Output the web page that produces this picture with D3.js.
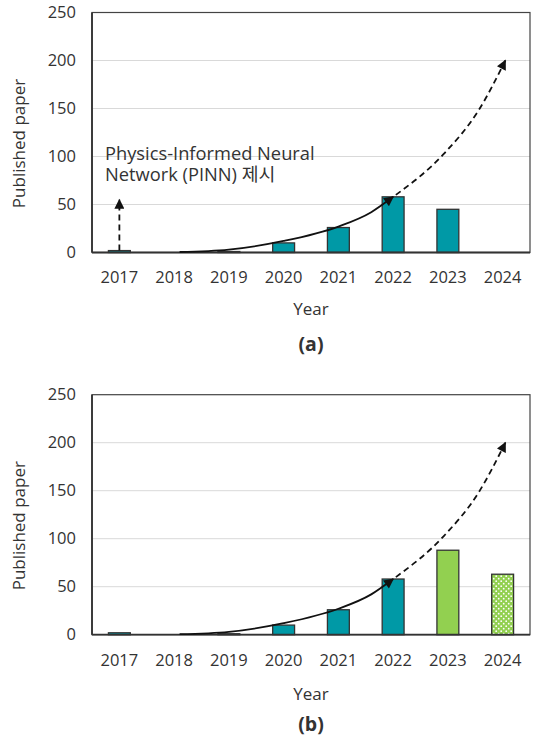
<!DOCTYPE html>
<html>
<head>
<meta charset="utf-8">
<script src="https://cdn.jsdelivr.net/npm/d3@7/dist/d3.min.js"></script>
<style>
  html, body { margin: 0; padding: 0; background: #fff; }
  svg { display: block; }
  text { font-family: "Open Sans", "Noto Sans CJK KR", sans-serif; fill: #333; }
</style>
</head>
<body>
<svg id="chart" width="536" height="738"></svg>
<script>
// ---- data ----
const years = ["2017", "2018", "2019", "2020", "2021", "2022", "2023", "2024"];
const papersA = [2, 0, 1, 10, 26, 58, 45, 0];
const papersB = [2, 0, 1, 10, 26, 58, 88, 63];
const barKindB = ["pub", "pub", "pub", "pub", "pub", "pub", "recent", "partial"];
const yTicks = [0, 50, 100, 150, 200, 250];
const trendSolid = [[2018.1, 0.5], [2019, 3], [2020, 12], [2021, 27], [2021.6, 42], [2022, 58]];
const trendDashed = [[2022.05, 60], [2022.93, 103], [2023.56, 148], [2024.05, 200]];
const pinnArrow = [[2017, 2], [2017, 55]];
const pinnLabel = ["Physics-Informed Neural", "Network (PINN) 제시"];
const panelLabels = ["(a)", "(b)"];

// ---- drawing ----
const svg = d3.select("#chart");
const defs = svg.append("defs");
defs.append("marker")
  .attr("id", "arrow").attr("markerUnits", "userSpaceOnUse")
  .attr("viewBox", "0 0 10 10").attr("refX", 9).attr("refY", 5)
  .attr("markerWidth", 11).attr("markerHeight", 10).attr("orient", "auto")
  .append("path").attr("d", "M0,0 L10,5 L0,10 z").attr("fill", "#111");
const pat = defs.append("pattern").attr("id", "dots").attr("patternUnits", "userSpaceOnUse")
  .attr("width", 5).attr("height", 5);
pat.append("rect").attr("width", 5).attr("height", 5).attr("fill", "#92D050");
pat.append("circle").attr("cx", 1.2).attr("cy", 1.2).attr("r", 0.9).attr("fill", "#fff");
pat.append("circle").attr("cx", 3.7).attr("cy", 3.7).attr("r", 0.9).attr("fill", "#fff");

const fills = { pub: "#0099A6", recent: "#92D050", partial: "url(#dots)" };

function panel(cfg) {
  const { top, values, kinds, label, showPinn, xLabY, titleY, panelY } = cfg;
  const left = 92, right = 530, bottom = top + 240;
  const x = d3.scaleBand().domain(years).range([left, right]).paddingInner(0.6).paddingOuter(0.3);
  const y = d3.scaleLinear().domain([0, 250]).range([bottom, top]);
  const xc = d3.scaleLinear().domain([+years[0], +years[years.length - 1]])
    .range([x(years[0]) + x.bandwidth() / 2, x(years[years.length - 1]) + x.bandwidth() / 2]);
  const g = svg.append("g");

  // grid
  g.append("g").selectAll("line").data(yTicks.filter(t => t > 0 && t < 250)).join("line")
    .attr("x1", left).attr("x2", right).attr("y1", d => y(d)).attr("y2", d => y(d))
    .attr("stroke", "#d9d9d9").attr("stroke-width", 1);

  // y axis labels
  const ya = g.append("g").attr("transform", `translate(${left},0)`)
    .call(d3.axisLeft(y).tickValues(yTicks).tickSize(0).tickPadding(16));
  ya.select(".domain").remove();
  ya.selectAll("text").attr("font-size", 16.5).attr("font-family", "Open Sans").attr("fill", "#333");

  // x axis labels
  const xa = g.append("g").attr("transform", `translate(0,${bottom})`)
    .call(d3.axisBottom(x).tickSize(0).tickPadding(0));
  xa.select(".domain").remove();
  xa.selectAll("text").attr("font-size", 16.5).attr("font-family", "Open Sans").attr("fill", "#333")
    .attr("dy", null).attr("y", xLabY - bottom);

  // bars
  g.append("g").selectAll("rect").data(years.map((yr, i) => ({ yr, v: values[i], k: kinds[i] })).filter(d => d.v > 0))
    .join("rect")
    .attr("x", d => x(d.yr)).attr("width", x.bandwidth())
    .attr("y", d => y(d.v)).attr("height", d => y(0) - y(d.v))
    .attr("fill", d => fills[d.k]).attr("stroke", "#333").attr("stroke-width", 1.3);

  // frame
  g.append("rect").attr("x", left).attr("y", top).attr("width", right - left).attr("height", bottom - top)
    .attr("fill", "none").attr("stroke", "#444").attr("stroke-width", 1.2);
  g.append("line").attr("x1", left).attr("x2", left).attr("y1", top).attr("y2", bottom)
    .attr("stroke", "#333").attr("stroke-width", 1.8);
  g.append("line").attr("x1", left).attr("x2", right).attr("y1", bottom).attr("y2", bottom)
    .attr("stroke", "#333").attr("stroke-width", 1.8);

  // trend lines
  const line = d3.line().x(d => xc(d[0])).y(d => y(d[1])).curve(d3.curveMonotoneX);
  g.append("path").attr("d", line(trendSolid)).attr("fill", "none").attr("stroke", "#111")
    .attr("stroke-width", 1.8).attr("marker-end", "url(#arrow)");
  g.append("path").attr("d", line(trendDashed)).attr("fill", "none").attr("stroke", "#111")
    .attr("stroke-width", 1.8).attr("stroke-dasharray", "6,4").attr("marker-end", "url(#arrow)");

  if (showPinn) {
    g.append("path").attr("d", d3.line().x(d => xc(d[0])).y(d => y(d[1]))(pinnArrow))
      .attr("fill", "none").attr("stroke", "#111").attr("stroke-width", 1.8)
      .attr("stroke-dasharray", "6,4").attr("marker-end", "url(#arrow)");
    g.append("text").attr("x", 105).attr("y", 159.5).attr("font-size", 18.3)
      .selectAll("tspan").data(pinnLabel).join("tspan")
      .attr("x", 105).attr("dy", (d, i) => i === 0 ? 0 : 21).text(d => d);
  }

  // axis titles
  g.append("text").attr("x", (left + right) / 2).attr("y", titleY).attr("text-anchor", "middle")
    .attr("font-size", 17).text("Year");
  g.append("text").attr("transform", `translate(25,${(top + bottom) / 2 + 11}) rotate(-90)`)
    .attr("text-anchor", "middle").attr("font-size", 17).text("Published paper");
  g.append("text").attr("x", (left + right) / 2).attr("y", panelY).attr("text-anchor", "middle")
    .attr("font-size", 19.5).attr("font-weight", "bold").attr("font-family", "Noto Sans CJK KR")
    .attr("fill", "#222").text(label);
}

panel({ top: 12.5, values: papersA, kinds: years.map(() => "pub"), label: panelLabels[0], showPinn: true,
        xLabY: 282.5, titleY: 315, panelY: 351 });
panel({ top: 394.7, values: papersB, kinds: barKindB, label: panelLabels[1], showPinn: false,
        xLabY: 666.5, titleY: 700, panelY: 731 });
</script>
</body>
</html>
